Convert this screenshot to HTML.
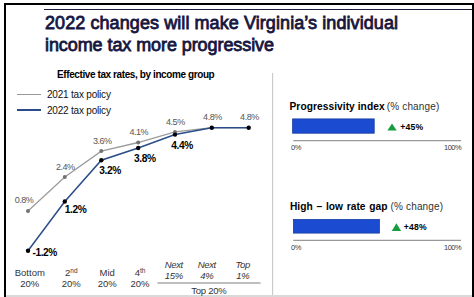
<!DOCTYPE html>
<html><head><meta charset="utf-8">
<style>
html,body{margin:0;padding:0;}
body{width:474px;height:297px;position:relative;overflow:hidden;background:#fff;font-family:"Liberation Sans",sans-serif;}
.a{position:absolute;white-space:nowrap;line-height:1;}
#frame{position:absolute;left:4.1px;top:3.4px;width:469.9px;height:294px;box-sizing:border-box;border-left:2.1px solid #000;border-top:2.2px solid #000;border-right:2.1px solid #000;}
#bottom{position:absolute;left:6px;top:295px;width:466px;height:2px;background:#d9d9d9;}
#navy{position:absolute;left:44px;top:9px;width:428px;height:1.3px;background:#1c1c3e;}
.title{color:#16163e;font-size:18px;-webkit-text-stroke:0.8px #16163e;}
.sub{font-weight:bold;font-size:10px;letter-spacing:-0.4px;color:#000;}
.leg{font-size:10px;letter-spacing:-0.2px;color:#111;}
.gl{font-size:9px;letter-spacing:-0.45px;color:#555;}
.bl{font-size:10.2px;letter-spacing:-0.4px;font-weight:bold;color:#000;}
.xl{font-size:9.5px;color:#333;text-align:center;line-height:11px;}
sup{font-size:6.5px;vertical-align:3.2px;line-height:0;}
.it{font-style:italic;letter-spacing:-0.3px;}
.rt{font-size:10.2px;font-weight:bold;color:#000;}
.rtn{font-size:10px;color:#333;font-weight:normal;}
.pct{font-size:8.6px;letter-spacing:0.25px;font-weight:bold;color:#000;}
.ax{font-size:7.5px;letter-spacing:-0.5px;color:#3a3a3a;}
</style></head><body>
<div id="frame"></div>
<div id="bottom"></div>
<div id="navy"></div>

<div class="a title" style="left:45px;top:14.2px;letter-spacing:0.08px">2022 changes will make Virginia’s individual</div>
<div class="a title" style="left:45px;top:36.2px;letter-spacing:-0.08px">income tax more progressive</div>

<div class="a sub" style="left:57px;top:69.6px;">Effective tax rates, by income group</div>

<div style="position:absolute;left:17px;top:93.5px;width:24px;height:1.4px;background:#9a9a9a;"></div>
<div style="position:absolute;left:17px;top:109.4px;width:24px;height:1.6px;background:#2a4c88;"></div>
<div class="a leg" style="left:47px;top:89.8px;">2021 tax policy</div>
<div class="a leg" style="left:47px;top:105.6px;">2022 tax policy</div>

<svg style="position:absolute;left:0;top:0" width="474" height="297">
  <polyline fill="none" stroke="#9c9c9c" stroke-width="1.3" points="28,210.9 64.8,177 101.3,151.1 138.2,142.5 175,131.9 211.8,127.7 248.7,127.7"/>
  <polyline fill="none" stroke="#2a4c88" stroke-width="1.5" points="28,250.8 64.8,201.5 101.3,160.2 138.2,148 175,134.6 211.8,127.7 248.7,127.7"/>
  <g fill="#727272">
    <circle cx="28" cy="210.9" r="2"/><circle cx="64.8" cy="177" r="2"/><circle cx="101.3" cy="151.1" r="2"/><circle cx="138.2" cy="142.5" r="2"/><circle cx="175" cy="131.9" r="2"/>
  </g>
  <g fill="#000">
    <circle cx="28" cy="250.8" r="2.2"/><circle cx="64.8" cy="201.5" r="2.2"/><circle cx="101.3" cy="160.2" r="2.2"/><circle cx="138.2" cy="148" r="2.2"/><circle cx="175" cy="134.6" r="2.2"/><circle cx="211.8" cy="127.7" r="2.2"/><circle cx="248.7" cy="127.7" r="2.2"/>
  </g>
  <line x1="272.6" y1="73" x2="272.6" y2="295" stroke="#c8c8c8" stroke-width="1.1"/>
  <line x1="157.5" y1="282.9" x2="260.5" y2="282.9" stroke="#a8a8a8" stroke-width="1.5"/>
  <line x1="293.3" y1="140.7" x2="461" y2="140.7" stroke="#999" stroke-width="1.3"/>
  <line x1="293.3" y1="240.4" x2="461" y2="240.4" stroke="#999" stroke-width="1.3"/>
  <rect x="292.6" y="118.9" width="81.6" height="14.3" fill="#1a4bd0" stroke="#1a3c9e" stroke-width="0.8"/>
  <rect x="293.4" y="219.4" width="86" height="13.7" fill="#1a4bd0" stroke="#1a3c9e" stroke-width="0.8"/>
  <polygon points="387.4,130.5 396.7,130.5 392,123.6" fill="#179c3e"/>
  <polygon points="391.8,231 401.1,231 396.4,223.3" fill="#179c3e"/>
</svg>

<div class="a gl" style="left:14.7px;top:195.7px;">0.8%</div>
<div class="a gl" style="left:55.9px;top:162.7px;">2.4%</div>
<div class="a gl" style="left:92.9px;top:136.8px;">3.6%</div>
<div class="a gl" style="left:129.4px;top:127.8px;">4.1%</div>
<div class="a gl" style="left:166px;top:118.0px;">4.5%</div>
<div class="a gl" style="left:203.1px;top:112.7px;">4.8%</div>
<div class="a gl" style="left:240.1px;top:112.7px;">4.8%</div>

<div class="a bl" style="left:32.4px;top:247.6px;">-1.2%</div>
<div class="a bl" style="left:64.7px;top:205px;">1.2%</div>
<div class="a bl" style="left:99.2px;top:165.9px;">3.2%</div>
<div class="a bl" style="left:134.1px;top:154.1px;">3.8%</div>
<div class="a bl" style="left:171.3px;top:140.8px;">4.4%</div>

<div class="a xl" style="left:9.8px;top:266.8px;width:40px;">Bottom<br>20%</div>
<div class="a xl" style="left:51.3px;top:266.8px;width:40px;">2<sup>nd</sup><br>20%</div>
<div class="a xl" style="left:87.2px;top:266.8px;width:40px;">Mid<br>20%</div>
<div class="a xl" style="left:120px;top:266.8px;width:40px;">4<sup>th</sup><br>20%</div>
<div class="a xl it" style="left:153.8px;top:258.7px;width:40px;">Next<br>15%</div>
<div class="a xl it" style="left:186.8px;top:258.7px;width:40px;">Next<br>4%</div>
<div class="a xl it" style="left:222.8px;top:258.7px;width:40px;">Top<br>1%</div>
<div class="a xl" style="left:188.9px;top:285.3px;width:40px;letter-spacing:-0.25px">Top 20%</div>

<div class="a rt" style="left:289.5px;top:101.5px;letter-spacing:0.06px">Progressivity index</div>
<div class="a rt rtn" style="left:386.8px;top:101.5px;letter-spacing:0.15px">(% change)</div>
<div class="a pct" style="left:400.3px;top:123.4px;">+45%</div>
<div class="a ax" style="left:291px;top:144px;">0%</div>
<div class="a ax" style="left:444px;top:144px;">100%</div>

<div class="a rt" style="left:290px;top:201.6px;word-spacing:1px">High – low rate gap</div>
<div class="a rt rtn" style="left:390.6px;top:201.6px;letter-spacing:0.15px">(% change)</div>
<div class="a pct" style="left:403.8px;top:222.9px;">+48%</div>
<div class="a ax" style="left:291px;top:244px;">0%</div>
<div class="a ax" style="left:444px;top:244px;">100%</div>
</body></html>
